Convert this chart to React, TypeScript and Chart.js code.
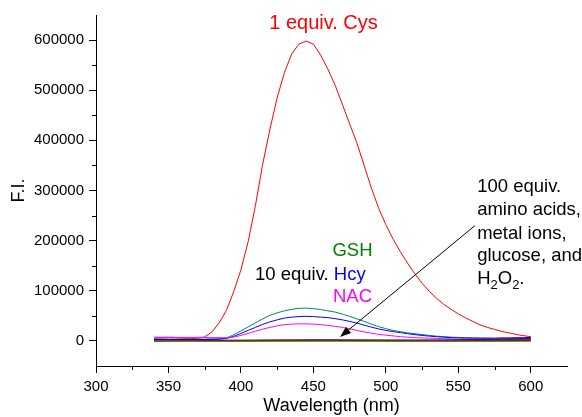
import React, { useEffect, useRef } from 'react';
import { Chart, registerables } from 'chart.js';

Chart.register(...registerables);

const FONT = "'Liberation Sans', Arial, sans-serif";

// Wavelength grid (nm)
const wavelengths = [
  340, 345, 350, 355, 360, 365, 370, 375, 380, 385,
  390, 395, 400, 405, 410, 415, 420, 425, 430, 435,
  440, 445, 450, 455, 460, 465, 470, 475, 480, 485,
  490, 495, 500, 505, 510, 515, 520, 525, 530, 535,
  540, 545, 550, 555, 560, 565, 570, 575, 580, 585,
  590, 595, 600,
];

// 1 equiv. Cys (red)
const cysValues = [
  6000, 6000, 6500, 6000, 5500, 5000, 5000, 8000, 18000, 36000,
  61000, 98000, 142000, 198000, 270000, 352000, 422000, 485000, 535000, 572000,
  592000, 598000, 592000, 570000, 542000, 510000, 472000, 433000, 395000, 350000,
  305000, 265000, 232000, 203000, 178000, 155000, 134000, 115000, 99000, 85000,
  73000, 63000, 54000, 46000, 39000, 32000, 27000, 23000, 19000, 16000,
  13000, 10500, 8500,
];

// 10 equiv. GSH (teal)
const gshValues = [
  4000, 4000, 3500, 3500, 3500, 3500, 3500, 3500, 4000, 4500,
  6000, 12000, 20000, 28000, 36000, 44000, 51000, 56000, 60000, 63000,
  65000, 65500, 64500, 62500, 60000, 57500, 53500, 49000, 44000, 39000,
  33500, 28500, 24500, 21000, 18500, 16000, 14500, 12500, 11000, 9500,
  8500, 7500, 7000, 6500, 6000, 5500, 5500, 5000, 5000, 5000,
  5000, 5000, 5000,
];

// 10 equiv. Hcy (blue)
const hcyValues = [
  3000, 3000, 2500, 2500, 2500, 2500, 2500, 3000, 3000, 3500,
  5000, 9000, 15000, 21000, 27000, 33000, 38000, 42000, 45500, 47500,
  48500, 49000, 48500, 47500, 46500, 44500, 42000, 39000, 35500, 31500,
  27500, 24000, 21000, 18500, 16500, 14500, 12500, 11000, 9500, 8500,
  7500, 6500, 6000, 5500, 5500, 5500, 5500, 5500, 6000, 6000,
  6500, 6500, 7000,
];

// 10 equiv. NAC (magenta)
const nacValues = [
  7500, 7500, 7500, 7000, 7000, 7000, 7000, 7000, 6500, 6500,
  6000, 7500, 11000, 15000, 19500, 23500, 27000, 30000, 32500, 33500,
  34000, 34000, 33500, 32500, 31000, 29000, 27000, 24000, 21000, 18000,
  15500, 13000, 11500, 10000, 8500, 7500, 6500, 6000, 5500, 5000,
  4500, 4000, 3500, 3500, 3500, 3500, 3500, 3500, 3500, 3500,
  3500, 3500, 3500,
];

// 100 equiv. other analytes (near-zero responses)
const flatWavelengths = [340, 360, 380, 400, 420, 440, 460, 480, 500, 520, 540, 560, 580, 600];
const otherBlack = [-1000, -800, -500, -300, 0, 200, 300, 200, 0, -200, -300, -200, 0, 500];
const otherOlive = [-1500, -1200, -1000, -800, -600, -500, -400, -500, -600, -700, -800, -900, -800, -600];
const otherPurple = [1000, 800, 600, 700, 1200, 1500, 1500, 1200, 1000, 900, 1000, 1500, 2500, 3500];
const otherNavy = [2000, 1800, 1500, 1500, 1800, 2000, 2200, 2000, 1800, 1800, 2000, 2500, 3500, 4500];
const otherWine = [500, 300, 200, 400, 800, 1000, 1000, 800, 600, 500, 500, 800, 1200, 2000];
const otherGray = [0, -200, -300, 0, 300, 500, 400, 300, 200, 100, 200, 400, 800, 1500];

// Axis settings
const xMin = 300;
const xMax = 625;
const yMin = -50000;
const yMax = 650000;

// Annotation anchors (data coordinates)
const cysLabel = { text: '1 equiv. Cys', x: 457, y: 634000 };
const gshLabel = { text: 'GSH', x: 477, y: 180000 };
const hcyLabel = { prefix: '10 equiv. ', text: 'Hcy', x: 409.7, y: 132000 };
const nacLabel = { text: 'NAC', x: 477, y: 88000 };
const otherLines = ['100 equiv.', 'amino acids,', 'metal ions,', 'glucose, and'];
const otherLineY = [308000, 261000, 214000, 169000];
const otherBlockX = 563;
const h2o2Y = 123000;
const arrowFrom = { x: 561.5, y: 230000 };
const arrowTo = { x: 468.4, y: 8000 };

const toPoints = (xs: number[], ys: number[]) => xs.map((x, i) => ({ x, y: ys[i] }));

const minorTicksPlugin = {
  id: 'minorTicks',
  afterDraw(chart: any) {
    const { ctx, scales } = chart;
    const xs = scales.x;
    const ys = scales.y;
    ctx.save();
    ctx.strokeStyle = '#000';
    ctx.lineWidth = 1;
    ctx.beginPath();
    for (let v = 325; v < xMax; v += 50) {
      const px = Math.round(xs.getPixelForValue(v)) + 0.5;
      ctx.moveTo(px, xs.top);
      ctx.lineTo(px, xs.top + 4);
    }
    for (let v = 50000; v < yMax; v += 100000) {
      const py = Math.round(ys.getPixelForValue(v)) + 0.5;
      ctx.moveTo(ys.right, py);
      ctx.lineTo(ys.right - 4, py);
    }
    ctx.stroke();
    ctx.restore();
  },
};

const annotationPlugin = {
  id: 'annotations',
  afterDatasetsDraw(chart: any) {
    const { ctx, scales } = chart;
    const xs = scales.x;
    const ys = scales.y;
    const X = (v: number) => xs.getPixelForValue(v);
    const Y = (v: number) => ys.getPixelForValue(v);
    ctx.save();
    ctx.textBaseline = 'middle';

    ctx.font = `20px ${FONT}`;
    ctx.fillStyle = '#ff0000';
    ctx.textAlign = 'center';
    ctx.fillText(cysLabel.text, X(cysLabel.x), Y(cysLabel.y));

    ctx.font = `18.5px ${FONT}`;
    ctx.fillStyle = '#008000';
    ctx.fillText(gshLabel.text, X(gshLabel.x), Y(gshLabel.y));

    ctx.fillStyle = '#ff00ff';
    ctx.fillText(nacLabel.text, X(nacLabel.x), Y(nacLabel.y));

    ctx.textAlign = 'left';
    ctx.fillStyle = '#000';
    const hx = X(hcyLabel.x);
    const hy = Y(hcyLabel.y);
    ctx.fillText(hcyLabel.prefix, hx, hy);
    const pw = ctx.measureText(hcyLabel.prefix).width;
    ctx.fillStyle = '#0000ff';
    ctx.fillText(hcyLabel.text, hx + pw, hy);

    ctx.fillStyle = '#000';
    const bx = X(otherBlockX);
    otherLines.forEach((t, i) => ctx.fillText(t, bx, Y(otherLineY[i])));
    // H2O2.
    const hy2 = Y(h2o2Y);
    let cx = bx;
    const parts: [string, boolean][] = [['H', false], ['2', true], ['O', false], ['2', true], ['.', false]];
    parts.forEach(([t, sub]) => {
      ctx.font = sub ? `13px ${FONT}` : `18.5px ${FONT}`;
      ctx.fillText(t, cx, sub ? hy2 + 6 : hy2);
      cx += ctx.measureText(t).width;
    });

    // Arrow
    const x1 = X(arrowFrom.x);
    const y1 = Y(arrowFrom.y);
    const x2 = X(arrowTo.x);
    const y2 = Y(arrowTo.y);
    const ang = Math.atan2(y2 - y1, x2 - x1);
    const headLen = 11;
    const headW = 4;
    ctx.strokeStyle = '#000';
    ctx.lineWidth = 1;
    ctx.beginPath();
    ctx.moveTo(x1, y1);
    ctx.lineTo(x2 - Math.cos(ang) * headLen * 0.8, y2 - Math.sin(ang) * headLen * 0.8);
    ctx.stroke();
    ctx.beginPath();
    ctx.moveTo(x2, y2);
    ctx.lineTo(
      x2 - Math.cos(ang) * headLen + Math.sin(ang) * headW,
      y2 - Math.sin(ang) * headLen - Math.cos(ang) * headW
    );
    ctx.lineTo(
      x2 - Math.cos(ang) * headLen - Math.sin(ang) * headW,
      y2 - Math.sin(ang) * headLen + Math.cos(ang) * headW
    );
    ctx.closePath();
    ctx.fillStyle = '#000';
    ctx.fill();
    ctx.restore();
  },
};

const line = (data: { x: number; y: number }[], color: string) => ({
  data,
  borderColor: color,
  backgroundColor: color,
  borderWidth: 1,
  pointRadius: 0,
  tension: 0,
  fill: false,
});

export default function App() {
  const canvasRef = useRef<HTMLCanvasElement | null>(null);

  useEffect(() => {
    if (!canvasRef.current) return;
    const chart = new Chart(canvasRef.current, {
      type: 'line',
      data: {
        datasets: [
          line(toPoints(flatWavelengths, otherOlive), '#808000'),
          line(toPoints(flatWavelengths, otherBlack), '#000000'),
          line(toPoints(flatWavelengths, otherGray), '#808080'),
          line(toPoints(flatWavelengths, otherWine), '#800000'),
          line(toPoints(flatWavelengths, otherPurple), '#800080'),
          line(toPoints(flatWavelengths, otherNavy), '#000080'),
          line(toPoints(wavelengths, nacValues), '#ff00ff'),
          line(toPoints(wavelengths, hcyValues), '#0000ff'),
          line(toPoints(wavelengths, gshValues), '#008080'),
          line(toPoints(wavelengths, cysValues), '#ff0000'),
        ] as any,
      },
      options: {
        animation: false,
        responsive: false,
        devicePixelRatio: 1,
        layout: { padding: { top: 15, right: 15, left: 0, bottom: 0 } },
        plugins: {
          legend: { display: false },
          tooltip: { enabled: false },
        },
        scales: {
          x: {
            type: 'linear',
            min: xMin,
            max: xMax,
            afterFit: (scale: any) => {
              scale.height = 51;
            },
            border: { display: true, color: '#000', width: 1 },
            grid: {
              drawOnChartArea: false,
              drawTicks: true,
              tickLength: 7,
              tickColor: (c: any) => (c.tick && c.tick.value % 50 === 0 && c.tick.value <= 600 ? '#000' : 'rgba(0,0,0,0)'),
            },
            ticks: {
              stepSize: 25,
              autoSkip: false,
              maxRotation: 0,
              padding: 5,
              color: '#000',
              font: { family: FONT, size: 15 },
              callback: (v: any) => (Number(v) % 50 === 0 && Number(v) <= 600 ? String(v) : ''),
            },
            title: {
              display: true,
              text: 'Wavelength (nm)',
              color: '#000',
              font: { family: FONT, size: 18 },
              padding: { top: 0, bottom: 0 },
            },
          },
          y: {
            type: 'linear',
            min: yMin,
            max: yMax,
            afterFit: (scale: any) => {
              scale.width = 96;
            },
            border: { display: true, color: '#000', width: 1 },
            grid: {
              drawOnChartArea: false,
              drawTicks: true,
              tickLength: 7,
              tickColor: (c: any) => (c.tick && c.tick.value % 100000 === 0 ? '#000' : 'rgba(0,0,0,0)'),
            },
            ticks: {
              stepSize: 50000,
              autoSkip: false,
              padding: 5,
              color: '#000',
              font: { family: FONT, size: 15 },
              callback: (v: any) => (Number(v) % 100000 === 0 ? String(v) : ''),
            },
            title: {
              display: true,
              text: 'F.I.',
              color: '#000',
              font: { family: FONT, size: 18 },
              padding: { top: 8, bottom: 0 },
            },
          },
        },
      } as any,
      plugins: [minorTicksPlugin, annotationPlugin],
    });
    return () => chart.destroy();
  }, []);

  return (
    <div style={{ position: 'absolute', left: 0, top: 0, width: 582, height: 417, background: '#fff' }}>
      <canvas ref={canvasRef} width={582} height={417} style={{ width: 582, height: 417 }} />
    </div>
  );
}
